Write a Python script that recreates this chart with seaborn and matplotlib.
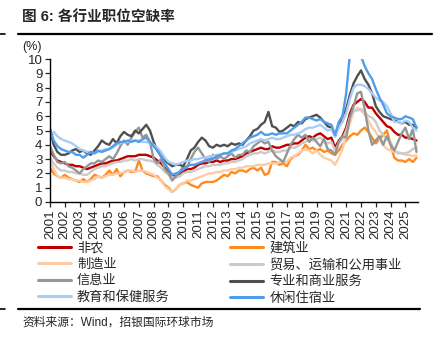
import numpy as np
import pandas as pd
import matplotlib
matplotlib.use("Agg")
import matplotlib.pyplot as plt
from matplotlib.lines import Line2D
import seaborn as sns

# Quarterly job openings rates (%), 2001Q1 - 2025Q4
nonfarm = [
    3.6, 3.2, 2.9, 2.8, 2.7, 2.6, 2.6, 2.5, 2.5, 2.4, 2.3, 2.4, 2.5, 2.6, 2.7, 2.7,
    2.8, 2.9, 2.9, 3.0, 3.1, 3.2, 3.2, 3.2, 3.3, 3.3, 3.3, 3.2, 3.1, 2.9, 2.7, 2.4,
    2.2, 1.9, 1.8, 2.0, 2.1, 2.3, 2.3, 2.4, 2.6, 2.7, 2.7, 2.8, 2.8, 2.9, 2.8, 2.9,
    2.9, 3.0, 3.0, 3.1, 3.2, 3.4, 3.5, 3.6, 3.7, 3.8, 3.7, 3.7, 3.9, 3.8, 3.8, 3.9,
    4.0, 4.0, 4.1, 4.1, 4.3, 4.5, 4.6, 4.5, 4.7, 4.8, 4.6, 4.4, 4.5, 3.8, 4.3, 4.6,
    5.2, 6.2, 6.8, 7.0, 7.2, 7.0, 6.6, 6.6, 6.2, 5.9, 5.6, 5.3, 5.2, 4.9, 4.7, 4.7,
    4.5, 4.5, 4.4, 4.3,
]
construction = [
    2.4, 2.0, 1.8, 1.7, 1.9, 1.7, 1.6, 1.5, 1.4, 1.6, 1.4, 1.6, 1.9, 1.8, 1.7, 1.9,
    2.2, 1.9, 2.3, 1.8, 2.1, 2.2, 2.1, 2.1, 2.9, 2.2, 2.0, 1.9, 1.8, 1.8, 1.5, 1.2,
    1.0, 0.7, 0.9, 1.2, 1.3, 1.4, 1.2, 1.1, 1.0, 1.3, 1.4, 1.4, 1.4, 1.5, 1.7, 1.9,
    1.8, 2.1, 2.0, 2.2, 2.2, 2.1, 2.3, 2.4, 2.2, 2.4, 1.9, 2.0, 2.8, 2.8, 2.6, 2.7,
    2.5, 3.0, 3.2, 3.3, 3.6, 4.0, 3.7, 3.8, 3.6, 3.7, 3.5, 3.6, 3.4, 3.3, 3.6, 4.0,
    4.3, 4.6, 4.8, 4.7, 5.0, 5.2, 4.9, 4.5, 4.1, 4.4, 4.7, 5.0, 4.0, 3.1, 2.9, 2.9,
    2.8, 3.0, 2.8, 3.1,
]
manufacturing = [
    2.9, 2.3, 1.8, 1.7, 1.7, 1.6, 1.6, 1.5, 1.5, 1.4, 1.4, 1.5, 1.6, 1.8, 1.7, 1.8,
    1.9, 1.9, 2.0, 2.0, 2.1, 2.2, 2.2, 2.1, 2.2, 2.2, 2.1, 2.0, 1.9, 1.7, 1.5, 1.1,
    0.9, 0.7, 0.9, 1.2, 1.3, 1.5, 1.5, 1.6, 1.7, 1.8, 1.9, 2.0, 2.0, 2.1, 2.1, 2.2,
    2.2, 2.3, 2.3, 2.4, 2.4, 2.5, 2.5, 2.5, 2.6, 2.6, 2.6, 2.7, 2.7, 2.7, 2.8, 2.8,
    2.8, 3.1, 3.2, 3.4, 3.6, 3.7, 3.6, 3.4, 3.6, 3.3, 3.1, 3.0, 2.9, 2.6, 3.1, 3.7,
    4.6, 5.5, 6.3, 6.6, 6.4, 6.1, 5.7, 5.2, 4.9, 4.4, 4.0, 3.7, 3.6, 3.5, 3.5, 3.4,
    3.3, 3.3, 3.2, 3.3,
]
trade = [
    3.1, 2.7, 2.4, 2.2, 2.2, 2.1, 2.1, 2.0, 2.0, 1.9, 1.9, 2.1, 2.3, 2.4, 2.5, 2.5,
    2.6, 2.7, 2.8, 2.8, 2.9, 2.9, 3.0, 2.9, 3.0, 3.0, 2.9, 2.9, 2.8, 2.6, 2.4, 2.1,
    1.9, 1.7, 1.7, 1.8, 2.0, 2.1, 2.1, 2.2, 2.3, 2.4, 2.5, 2.5, 2.6, 2.6, 2.6, 2.7,
    2.7, 2.8, 2.8, 2.9, 3.0, 3.2, 3.3, 3.4, 3.4, 3.5, 3.4, 3.5, 3.6, 3.5, 3.5, 3.6,
    3.6, 3.8, 3.8, 3.9, 4.1, 4.2, 4.4, 4.3, 4.4, 4.5, 4.3, 4.1, 4.2, 3.6, 4.1, 4.4,
    5.0, 5.9, 6.4, 6.4, 6.5, 6.3, 6.0, 5.9, 5.6, 5.0, 4.7, 4.4, 4.2, 3.6, 3.4, 3.4,
    3.4, 3.5, 3.7, 3.8,
]
information = [
    3.9, 3.3, 2.8, 2.7, 2.8, 2.5, 2.4, 2.2, 2.0, 2.3, 2.5, 2.7, 2.7, 2.9, 2.8, 3.0,
    3.2, 3.0, 3.4, 3.9, 4.3, 4.0, 4.5, 4.9, 5.2, 4.5, 4.7, 4.2, 3.0, 2.7, 3.0, 2.3,
    2.0, 1.5, 1.8, 2.1, 2.5, 2.4, 3.0, 3.5, 3.8, 3.4, 3.0, 2.8, 3.3, 3.0, 3.2, 3.0,
    3.2, 3.4, 3.1, 3.3, 3.3, 3.6, 3.5, 3.9, 4.1, 4.3, 4.1, 4.2, 3.6, 3.2, 3.0, 2.8,
    3.4, 4.0, 4.4, 4.7, 4.5, 4.7, 4.2, 4.5, 4.2, 3.9, 4.4, 3.7, 3.6, 3.3, 4.2, 4.6,
    4.5, 5.9, 6.7, 7.6, 7.7, 6.5, 5.0, 4.0, 4.3, 4.6, 4.0, 4.6, 4.0, 3.6, 4.2, 4.8,
    5.2, 4.4, 5.1, 3.5,
]
professional = [
    5.1, 4.0, 3.5, 3.3, 3.3, 3.4, 3.6, 3.7, 3.5, 3.6, 3.4, 3.3, 3.6, 3.9, 4.3, 4.1,
    4.0, 4.4, 4.1, 4.6, 4.9, 4.7, 4.6, 5.0, 4.8, 5.1, 5.4, 5.0, 4.2, 3.6, 3.2, 2.9,
    2.7, 2.5, 2.6, 2.6, 2.5, 3.0, 3.6, 3.8, 4.2, 4.5, 4.3, 3.9, 3.8, 4.0, 3.9, 4.0,
    3.9, 4.1, 4.0, 4.1, 4.0, 4.3, 4.6, 5.0, 5.1, 5.4, 5.6, 6.3, 5.3, 5.2, 4.9, 5.0,
    5.2, 5.4, 5.3, 5.6, 5.5, 5.8, 5.9, 6.0, 6.1, 5.9, 5.6, 5.3, 5.2, 4.6, 5.3, 6.0,
    6.5, 7.5, 8.3, 8.8, 9.2, 8.6, 8.2, 7.6, 6.7, 6.3, 6.0, 5.9, 5.8, 5.7, 5.6, 5.5,
    5.6, 5.4, 5.4, 5.2,
]
education = [
    4.5, 4.9, 4.6, 4.4, 4.3, 4.2, 4.1, 3.9, 3.7, 3.6, 3.5, 3.5, 3.4, 3.5, 3.6, 3.7,
    3.7, 3.8, 4.0, 4.1, 4.2, 4.2, 4.3, 4.3, 4.3, 4.2, 4.2, 4.1, 4.0, 3.8, 3.5, 3.1,
    2.8, 2.7, 2.6, 2.7, 2.8, 2.9, 2.9, 3.0, 3.0, 3.1, 3.1, 3.2, 3.2, 3.3, 3.3, 3.4,
    3.4, 3.5, 3.6, 3.7, 3.8, 3.9, 4.1, 4.2, 4.3, 4.4, 4.3, 4.4, 4.5, 4.4, 4.4, 4.5,
    4.6, 4.7, 4.7, 4.8, 4.9, 5.1, 5.2, 5.2, 5.3, 5.4, 5.2, 5.0, 5.1, 4.6, 5.2, 5.6,
    6.2, 7.2, 8.0, 8.2, 8.2, 8.1, 7.9, 7.6, 7.3, 7.1, 7.0, 6.7, 6.2, 5.6, 5.6, 5.5,
    5.7, 5.6, 5.2, 5.0,
]
leisure = [
    5.1, 4.3, 3.9, 3.7, 3.6, 3.5, 3.5, 3.3, 3.3, 3.1, 3.3, 3.5, 3.4, 3.6, 3.5, 3.6,
    3.7, 3.9, 4.1, 4.2, 4.2, 4.3, 4.2, 4.3, 4.2, 4.4, 4.5, 4.2, 3.9, 3.6, 3.2, 2.7,
    2.3, 1.9, 2.0, 2.1, 2.3, 2.5, 2.6, 2.6, 2.7, 2.8, 2.9, 3.0, 3.0, 3.2, 3.3, 3.4,
    3.4, 3.6, 3.7, 3.9, 4.1, 4.3, 4.5, 4.6, 4.7, 4.9, 4.7, 4.7, 4.8, 4.7, 4.8, 4.8,
    4.8, 5.0, 5.2, 5.4, 5.6, 5.9, 5.9, 5.8, 5.7, 5.8, 5.6, 5.5, 5.4, 4.7, 5.6, 6.0,
    7.6, 10.3, 10.6, 10.5, 10.2, 9.5, 9.0, 8.6, 7.9, 7.3, 6.8, 6.2, 6.0, 5.9, 5.8, 5.8,
    6.0, 5.9, 5.8, 5.2,
]

series_names = ["非农", "建筑业", "制造业", "贸易、运输和公用事业",
                "信息业", "专业和商业服务", "教育和保健服务", "休闲住宿业"]
series_values = [nonfarm, construction, manufacturing, trade,
                 information, professional, education, leisure]
series_colors = ["#C00000", "#FF8A1E", "#FDCCA6", "#CBCBCB",
                 "#969696", "#505050", "#A8CDF5", "#4F9DEB"]
year_ticks = list(range(2001, 2026))

frames = []
for name, vals in zip(series_names, series_values):
    t = 2001 + np.arange(len(vals)) / 4.0
    frames.append(pd.DataFrame({"t": t, "rate": vals, "series": name}))
df = pd.concat(frames, ignore_index=True)

sns.set_style("ticks")
plt.rcParams["font.family"] = ["Liberation Sans", "Noto Sans CJK SC", "DejaVu Sans"]

fig = plt.figure(figsize=(4.35, 3.4), dpi=100)
ax = fig.add_axes([50 / 435, 1 - 202 / 340, 368 / 435, 143 / 340])

sns.lineplot(data=df, x="t", y="rate", hue="series", hue_order=series_names,
             palette=dict(zip(series_names, series_colors)), linewidth=1.7,
             ax=ax, legend=False)

ax.set_xlim(2001, 2025.85)
ax.set_ylim(0, 10)
ax.set_yticks(range(0, 11))
ax.set_xticks(year_ticks)
ax.set_xticklabels([str(y) for y in year_ticks], rotation=90, fontsize=9.5)
ax.tick_params(axis="y", labelsize=9.5, length=3.5, width=0.9, pad=2)
ax.tick_params(axis="x", length=3.5, width=0.9, pad=2)
ax.set_xlabel("")
ax.set_ylabel("")
for s in ("top", "right"):
    ax.spines[s].set_visible(False)
for s in ("left", "bottom"):
    ax.spines[s].set_linewidth(1.0)
    ax.spines[s].set_color("black")

fig.text(22 / 435, 1 - 47 / 340, "(%)", fontsize=9, va="center", ha="left")

# Legend laid out row by row in two columns
handles = [Line2D([], [], color=c, linewidth=2.2) for c in series_colors]
order = [0, 2, 4, 6, 1, 3, 5, 7]
fig.legend([handles[i] for i in order], [series_names[i] for i in order],
           ncol=2, loc="upper left", bbox_to_anchor=(38 / 435, 1 - 242 / 340),
           frameon=False, fontsize=9.5, handlelength=2.5, handletextpad=0.45,
           columnspacing=4.6, labelspacing=0.3, borderpad=0, borderaxespad=0)

# Header and footer
fig.text(22 / 435, 1 - 18 / 340, "图 6: 各行业职位空缺率", fontsize=10.5,
         fontweight="bold", va="center", ha="left")
fig.add_artist(Line2D([18 / 435, 432 / 435], [1 - 33.5 / 340] * 2,
                      color="black", linewidth=1.6))
fig.add_artist(Line2D([0, 5 / 435], [1 - 33.5 / 340] * 2, color="black", linewidth=1.2))
fig.add_artist(Line2D([18 / 435, 420 / 435], [1 - 309 / 340] * 2,
                      color="black", linewidth=1.6))
fig.add_artist(Line2D([0, 5 / 435], [1 - 309 / 340] * 2, color="black", linewidth=1.2))
fig.text(22 / 435, 1 - 323 / 340, "资料来源：Wind，招银国际环球市场", fontsize=8.5,
         va="center", ha="left")

fig.savefig("out.png", dpi=100)
